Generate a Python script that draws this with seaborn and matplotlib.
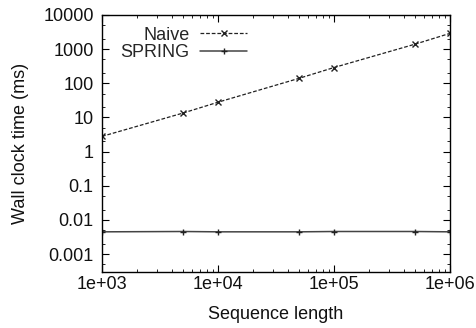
import numpy as np
import pandas as pd
import matplotlib
matplotlib.use("Agg")
import matplotlib.pyplot as plt
import matplotlib.ticker as mticker
import seaborn as sns

# Data
seq_length = [1e3, 5e3, 1e4, 5e4, 1e5, 5e5, 1e6]
naive_ms = [2.8, 13.5, 28, 140, 290, 1400, 2900]
spring_ms = [0.0045, 0.0046, 0.0045, 0.0045, 0.0046, 0.0046, 0.0045]

sns.set_style("ticks")
plt.rcParams["font.family"] = ["Liberation Sans", "DejaVu Sans"]

df_naive = pd.DataFrame({"length": seq_length, "time": naive_ms})
df_spring = pd.DataFrame({"length": seq_length, "time": spring_ms})

fig = plt.figure(figsize=(4.76, 3.28), dpi=100)
ax = fig.add_axes([0.2143, 0.1707, 0.7311, 0.7836])

sns.lineplot(data=df_naive, x="length", y="time", label="Naive",
             color="#222222", linestyle=(0, (3, 1.5)), linewidth=0.9,
             marker="x", markersize=4, markeredgewidth=1.0,
             markeredgecolor="#222222", ax=ax)
sns.lineplot(data=df_spring, x="length", y="time", label="SPRING",
             color="#444444", linestyle="-", linewidth=1.1,
             marker="+", markersize=5, markeredgewidth=1.0,
             markeredgecolor="#222222", ax=ax)

ax.set_xscale("log")
ax.set_yscale("log")
ax.set_xlim(1e3, 1e6)
ax.set_ylim(3e-4, 1e4)

ax.xaxis.set_major_locator(mticker.FixedLocator([1e3, 1e4, 1e5, 1e6]))
ax.xaxis.set_major_formatter(mticker.FuncFormatter(lambda v, p: "1e+%02d" % round(np.log10(v))))
ax.yaxis.set_major_locator(mticker.FixedLocator([1e-3, 1e-2, 1e-1, 1, 10, 100, 1000, 1e4]))
ax.yaxis.set_major_formatter(mticker.FuncFormatter(
    lambda v, p: ("%g" % v) if v >= 1 else ("%.*f" % (int(round(-np.log10(v))), v))))
ax.xaxis.set_minor_locator(mticker.LogLocator(base=10, subs=np.arange(2, 10)))
ax.yaxis.set_minor_locator(mticker.LogLocator(base=10, subs=(2, 5), numticks=20))
ax.yaxis.set_minor_formatter(mticker.NullFormatter())
ax.xaxis.set_minor_formatter(mticker.NullFormatter())

ax.tick_params(which="both", direction="in", top=True, right=True, color="black")
ax.tick_params(which="major", length=5, width=0.8, labelsize=13, pad=3, labelcolor="#111111")
ax.tick_params(axis="y", which="major", pad=6)
ax.tick_params(which="minor", length=2.5, width=0.6)
for s in ax.spines.values():
    s.set_linewidth(1.0)
    s.set_color("black")

ax.set_xlabel("Sequence length", fontsize=13, labelpad=9, color="#111111")
ax.set_ylabel("Wall clock time (ms)", fontsize=13, labelpad=10, color="#111111")

ax.legend(loc="upper right", bbox_to_anchor=(0.417, 0.955), frameon=False,
          markerfirst=False, fontsize=13, handlelength=2.6, handletextpad=0.6,
          borderpad=0, borderaxespad=0, labelspacing=0.05)

fig.savefig("out.png", dpi=100)
